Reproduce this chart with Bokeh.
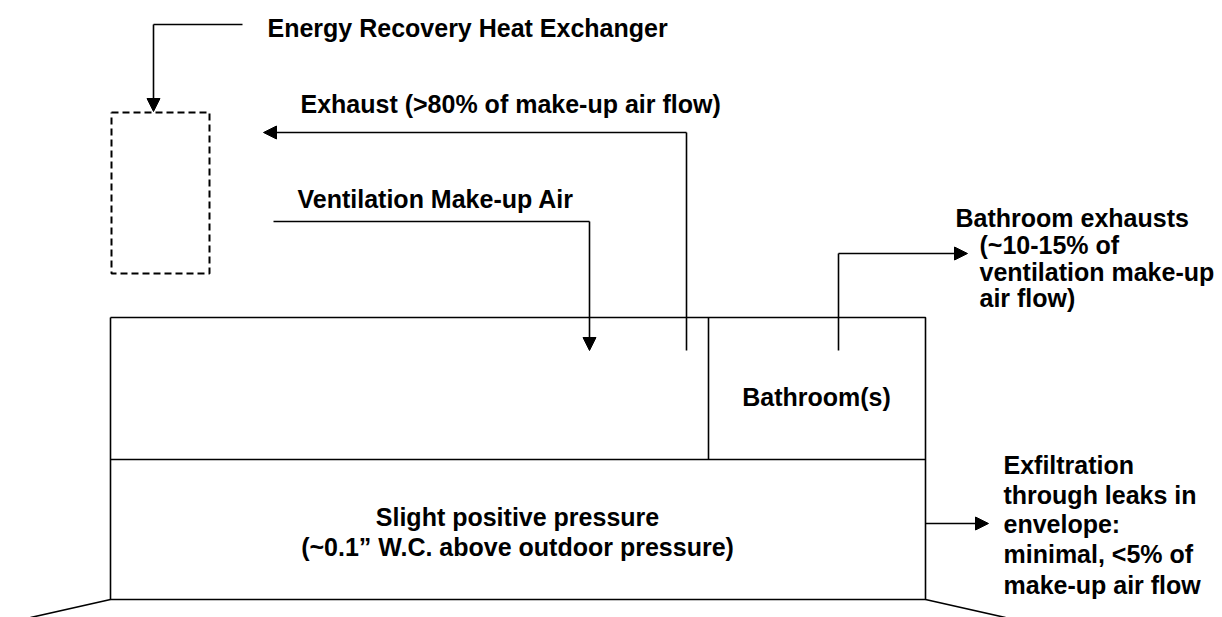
from bokeh.plotting import figure
from bokeh.models import Range1d, Arrow, NormalHead
from bokeh.core.properties import value
from bokeh.embed import file_html
from bokeh.resources import INLINE

# ---- diagram geometry (page pixel coordinates, y grows downward) ----
solid_xs = [[110, 925, 925, 110, 110], [110, 925], [708, 708], [110, 30], [925, 1005],
            [242, 153], [686, 686], [273, 589], [838, 838]]
solid_ys = [[317, 317, 599, 599, 317], [459, 459], [317, 459], [599, 617], [599, 617],
            [24, 24], [350, 132], [221, 221], [350, 253]]

dash_xs = [[111, 209, 209, 111, 111]]
dash_ys = [[112, 112, 273, 273, 112]]

arrow_x0 = [153, 686, 589, 838, 925]
arrow_y0 = [24, 132, 221, 253, 523]
arrow_x1 = [153, 263, 589, 967, 988]
arrow_y1 = [111, 132, 350, 253, 523]

left_labels = ["Energy Recovery Heat Exchanger", "Exhaust (>80% of make-up air flow)",
               "Ventilation Make-up Air",
               "Bathroom exhausts", "(~10-15% of", "ventilation make-up", "air flow)",
               "Exfiltration", "through leaks in", "envelope:", "minimal, <5% of",
               "make-up air flow"]
left_x = [267, 300, 297, 955, 979, 979, 979, 1003, 1003, 1003, 1003, 1003]
left_y = [27, 103, 198, 217, 244, 271, 297, 464, 494, 523, 553, 584]

center_labels = ["Bathroom(s)", "Slight positive pressure", "(~0.1\u201d W.C. above outdoor pressure)"]
center_x = [816, 517, 517]
center_y = [396, 516, 546]

p = figure(width=1222, height=617, output_backend="svg", toolbar_location=None,
           x_range=Range1d(0, 1222), y_range=Range1d(617, 0), min_border=0,
           background_fill_color="white", border_fill_color="white")
p.axis.visible = False
p.grid.visible = False
p.outline_line_color = None

p.multi_line(solid_xs, solid_ys, line_color="black", line_width=1.6)
p.multi_line(dash_xs, dash_ys, line_color="black", line_width=2, line_dash="7 4")

for x0, y0, x1, y1 in zip(arrow_x0, arrow_y0, arrow_x1, arrow_y1):
    p.add_layout(Arrow(x_start=x0, y_start=y0, x_end=x1, y_end=y1,
                       line_color="black", line_width=1.6,
                       end=NormalHead(size=13, fill_color="black", line_color="black", line_width=1)))

font = value("Liberation Sans")
p.text(left_x, left_y, text=left_labels, text_font=font, text_font_style="bold",
       text_font_size="25px", text_color="black", text_align="left", text_baseline="middle")
p.text(center_x, center_y, text=center_labels, text_font=font, text_font_style="bold",
       text_font_size="25px", text_color="black", text_align="center", text_baseline="middle")

open("out.html", "w").write(file_html(p, INLINE))
